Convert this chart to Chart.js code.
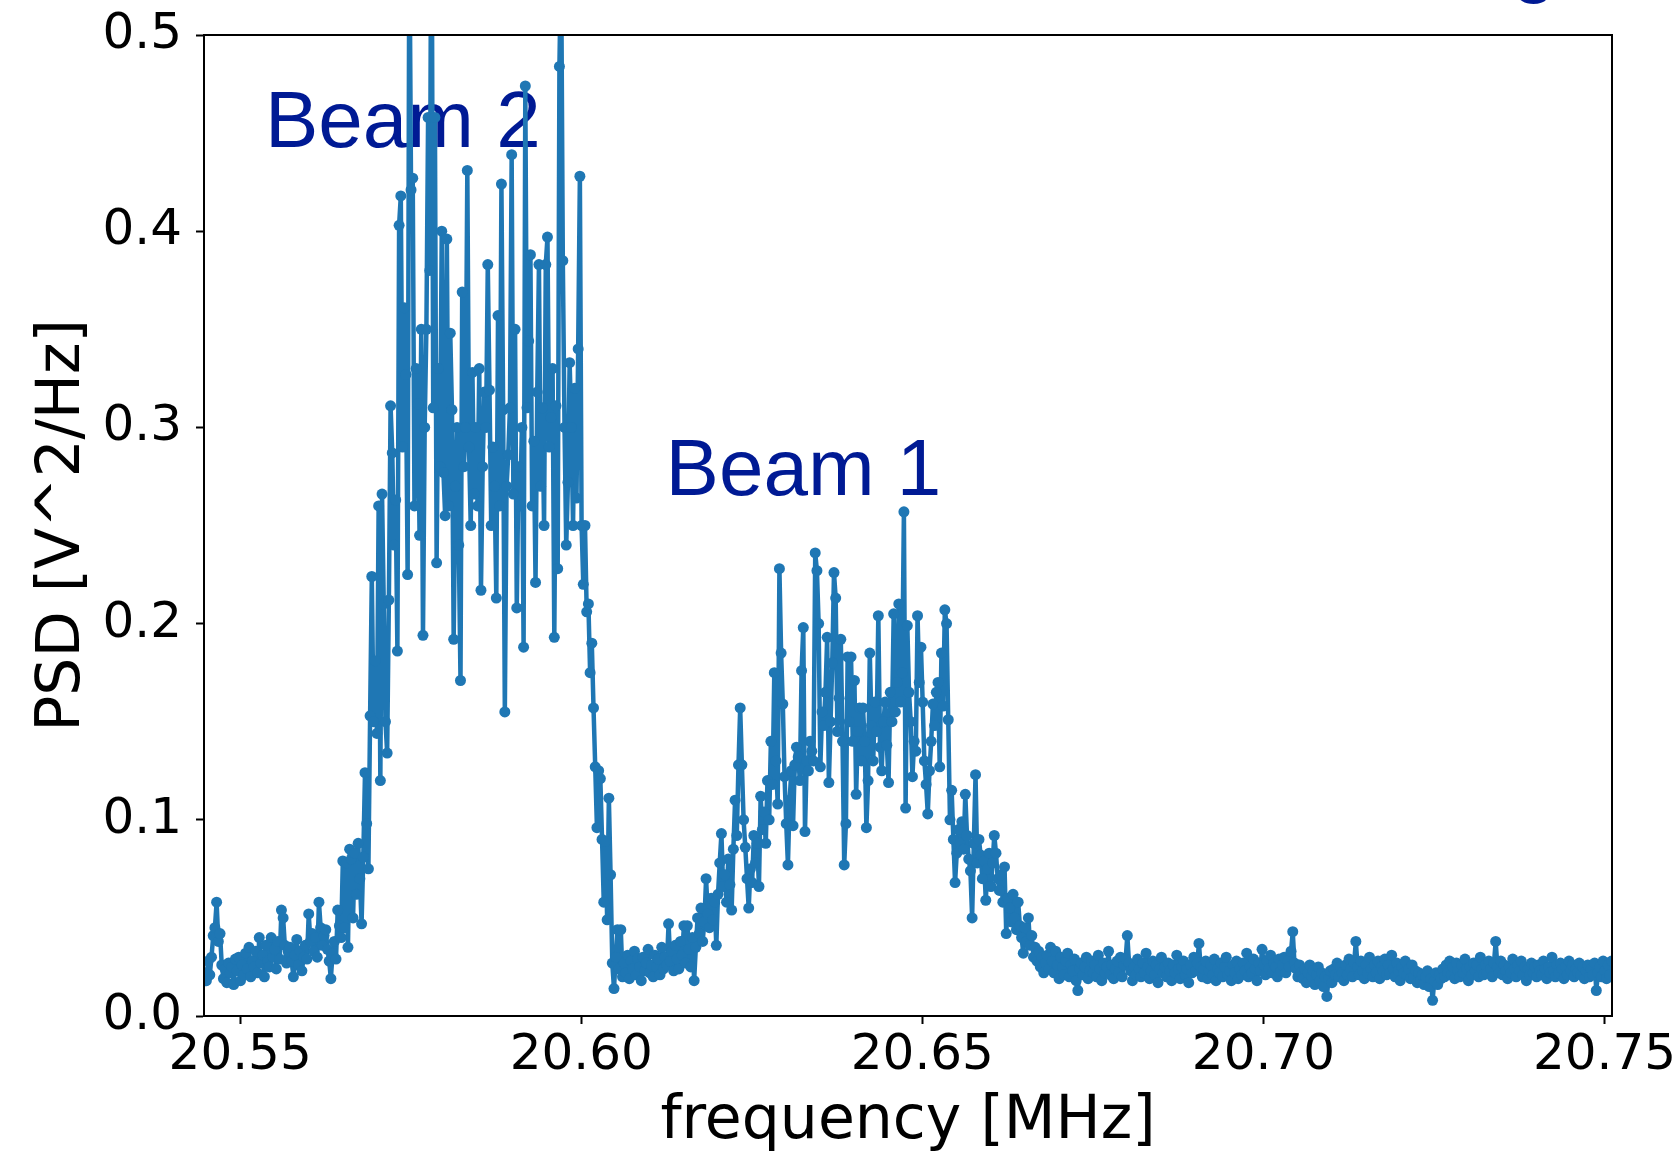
<!DOCTYPE html>
<html>
<head>
<meta charset="utf-8">
<title>PSD spectrum</title>
<script src="https://cdn.jsdelivr.net/npm/chart.js@4.4.1/dist/chart.umd.min.js"></script>
<style>
  html, body { margin: 0; padding: 0; background: #fff; }
  canvas { display: block; }
</style>
</head>
<body>
<canvas id="psdChart" width="1680" height="1152"></canvas>
<script>
  // frequency grid of the trace (MHz)
  const freqStart = 20.5448;
  const freqStep = 0.00025;
  const xMin = 20.5447;
  const xMax = 20.7511;
  const xTicks = [20.55, 20.60, 20.65, 20.70, 20.75];
  const yTicks = [0, 0.1, 0.2, 0.3, 0.4, 0.5];

  // PSD values, V^2/Hz
  const noiseLeft = [
    0.022, 0.018, 0.028, 0.021, 0.030, 0.041, 0.045, 0.058, 0.038, 0.042,
    0.026, 0.019, 0.024, 0.017, 0.027, 0.022, 0.025, 0.016, 0.029, 0.023,
    0.030, 0.018, 0.026, 0.021, 0.032, 0.024, 0.035, 0.020, 0.028, 0.025,
    0.033, 0.022, 0.040, 0.027, 0.031, 0.020, 0.036, 0.028, 0.025, 0.040,
    0.030, 0.034, 0.024, 0.038, 0.029, 0.054, 0.050, 0.036, 0.027, 0.033,
    0.035, 0.028, 0.020, 0.031, 0.039, 0.026, 0.033, 0.023, 0.030, 0.036,
    0.029, 0.052, 0.038, 0.042, 0.033, 0.040, 0.030, 0.058, 0.045, 0.036,
    0.041, 0.044, 0.034, 0.028, 0.019, 0.032, 0.038, 0.029, 0.054, 0.046,
    0.040
  ];
  const riseBeam2 = [
    0.079, 0.045, 0.078, 0.035, 0.085, 0.080, 0.050, 0.083, 0.062, 0.088,
    0.070, 0.047, 0.081, 0.124, 0.098, 0.075, 0.153
  ];
  const beam2 = [
    0.224, 0.150, 0.181, 0.144, 0.260, 0.120, 0.266, 0.210, 0.150, 0.134,
    0.212, 0.311, 0.287, 0.240, 0.263, 0.186, 0.403, 0.418, 0.290, 0.361,
    0.327, 0.225, 0.560, 0.421, 0.427, 0.260, 0.330, 0.312, 0.245, 0.350,
    0.194, 0.300, 0.350, 0.458, 0.380, 0.600, 0.310, 0.458, 0.231, 0.330,
    0.280, 0.400, 0.277, 0.255, 0.396, 0.260, 0.348, 0.309, 0.192, 0.270,
    0.300, 0.240, 0.171, 0.369, 0.280, 0.300, 0.431, 0.290, 0.250, 0.328,
    0.266, 0.300, 0.260, 0.330, 0.217, 0.280, 0.318, 0.300, 0.383, 0.319,
    0.250, 0.290, 0.270, 0.213, 0.357, 0.260, 0.424, 0.309, 0.155, 0.270,
    0.286, 0.310, 0.439, 0.266, 0.350, 0.208, 0.280, 0.260, 0.300, 0.188,
    0.474, 0.310, 0.344, 0.388, 0.260, 0.293, 0.221, 0.318, 0.383, 0.270,
    0.310, 0.250, 0.383, 0.397, 0.290, 0.305, 0.330, 0.193, 0.311, 0.228,
    0.484, 0.540, 0.385, 0.300, 0.240, 0.272, 0.333, 0.300, 0.250, 0.320,
    0.264, 0.340, 0.428
  ];
  const fallBeam2 = [
    0.250, 0.220, 0.250, 0.206, 0.210, 0.175, 0.190, 0.157, 0.127, 0.096,
    0.125, 0.121, 0.090, 0.058, 0.089, 0.049, 0.111, 0.072, 0.027, 0.014,
    0.030, 0.044, 0.024, 0.044, 0.020
  ];
  const gap = [
    0.027, 0.022, 0.031, 0.019, 0.028, 0.024, 0.033, 0.021, 0.029, 0.025,
    0.018, 0.030, 0.023, 0.027, 0.034, 0.022, 0.026, 0.020, 0.031, 0.025,
    0.029, 0.021, 0.035, 0.024, 0.030, 0.026, 0.047, 0.028, 0.033, 0.023,
    0.036, 0.029, 0.024, 0.038, 0.031, 0.046, 0.027, 0.046, 0.034, 0.025,
    0.040, 0.018, 0.035, 0.050
  ];
  const beam1 = [
    0.042, 0.055, 0.038, 0.048, 0.070, 0.052, 0.045, 0.060, 0.049, 0.058,
    0.036, 0.062, 0.078, 0.093, 0.066, 0.072, 0.058, 0.080, 0.067, 0.054,
    0.085, 0.110, 0.092, 0.128, 0.157, 0.128, 0.100, 0.086, 0.070, 0.055,
    0.075, 0.068, 0.092, 0.078, 0.088, 0.066, 0.112, 0.095, 0.104, 0.088,
    0.120, 0.100, 0.140, 0.118, 0.175, 0.130, 0.108, 0.228, 0.185, 0.159,
    0.122, 0.098, 0.077, 0.110, 0.125, 0.097, 0.128, 0.137, 0.132, 0.120,
    0.176, 0.198, 0.094, 0.130, 0.125, 0.140, 0.135, 0.130, 0.236, 0.227,
    0.200, 0.127, 0.155, 0.148, 0.165, 0.193, 0.119, 0.150, 0.180, 0.226,
    0.213, 0.145, 0.162, 0.192, 0.140, 0.077, 0.098, 0.183, 0.150, 0.183,
    0.140, 0.171, 0.113, 0.145, 0.157, 0.130, 0.157, 0.140, 0.096, 0.120,
    0.185, 0.148, 0.130, 0.160, 0.145, 0.204, 0.137, 0.125, 0.150, 0.160,
    0.138, 0.119, 0.165, 0.150, 0.205, 0.155, 0.170, 0.210, 0.160, 0.175,
    0.257, 0.106, 0.199, 0.165, 0.150, 0.122, 0.140, 0.135, 0.204, 0.170,
    0.188, 0.160, 0.130, 0.118, 0.103, 0.125, 0.140, 0.159, 0.148, 0.165,
    0.170, 0.127, 0.185, 0.158, 0.207, 0.200, 0.151, 0.100, 0.115, 0.090,
    0.068, 0.083, 0.095, 0.088, 0.099, 0.085, 0.113, 0.092, 0.080, 0.074,
    0.050, 0.088, 0.123, 0.078, 0.090, 0.082, 0.070, 0.079, 0.059, 0.075,
    0.083, 0.066, 0.078, 0.092, 0.083, 0.070, 0.064, 0.072, 0.058, 0.076,
    0.042, 0.060, 0.055, 0.048, 0.062, 0.050, 0.044, 0.058, 0.046, 0.040,
    0.032, 0.045, 0.038, 0.050, 0.036, 0.041, 0.030, 0.035, 0.028, 0.033,
    0.025, 0.030, 0.022, 0.027
  ];
  const noiseRight = [
    0.031, 0.024, 0.035, 0.028, 0.022, 0.033, 0.026, 0.019, 0.030, 0.025,
    0.021, 0.028, 0.032, 0.020, 0.026, 0.023, 0.029, 0.018, 0.013, 0.024,
    0.027, 0.021, 0.025, 0.030, 0.019, 0.023, 0.028, 0.022, 0.026, 0.020,
    0.031, 0.024, 0.018, 0.027, 0.022, 0.025, 0.033, 0.021, 0.026, 0.019,
    0.024, 0.028, 0.022, 0.030, 0.020, 0.026, 0.029, 0.041, 0.027, 0.023,
    0.018, 0.025, 0.021, 0.029, 0.024, 0.020, 0.027, 0.022, 0.032, 0.025,
    0.019, 0.023, 0.028, 0.021, 0.026, 0.017, 0.024, 0.030, 0.022, 0.025,
    0.020, 0.027, 0.023, 0.018, 0.026, 0.022, 0.031, 0.024, 0.019, 0.025,
    0.028, 0.021, 0.024, 0.017, 0.026, 0.022, 0.030, 0.023, 0.027, 0.037,
    0.025, 0.020, 0.024, 0.028, 0.019, 0.023, 0.026, 0.021, 0.029, 0.018,
    0.024, 0.022, 0.027, 0.020, 0.025, 0.030, 0.021, 0.023, 0.018, 0.026,
    0.022, 0.028, 0.019, 0.024, 0.021, 0.027, 0.023, 0.032, 0.020, 0.025,
    0.022, 0.029, 0.024, 0.018, 0.027, 0.023, 0.034, 0.026, 0.021, 0.028,
    0.024, 0.031, 0.022, 0.027, 0.025, 0.020, 0.029, 0.023, 0.026, 0.030,
    0.022, 0.028, 0.025, 0.033, 0.043, 0.027, 0.024, 0.020, 0.026, 0.022,
    0.019, 0.024, 0.017, 0.022, 0.026, 0.020, 0.023, 0.016, 0.021, 0.025,
    0.018, 0.022, 0.015, 0.020, 0.010, 0.019, 0.023, 0.017, 0.024, 0.021,
    0.027, 0.020, 0.025, 0.022, 0.018, 0.026, 0.021, 0.029, 0.024, 0.020,
    0.027, 0.038, 0.025, 0.021, 0.028, 0.023, 0.019, 0.026, 0.022, 0.030,
    0.024, 0.020, 0.026, 0.022, 0.028, 0.019, 0.025, 0.023, 0.029, 0.021,
    0.026, 0.022, 0.031, 0.024, 0.020, 0.027, 0.023, 0.018, 0.025, 0.022,
    0.028, 0.021, 0.024, 0.019, 0.026, 0.020, 0.023, 0.017, 0.022, 0.018,
    0.021, 0.016, 0.020, 0.023, 0.015, 0.019, 0.008, 0.018, 0.022, 0.016,
    0.021, 0.019, 0.024, 0.020, 0.026, 0.022, 0.028, 0.021, 0.025, 0.019,
    0.027, 0.023, 0.020, 0.026, 0.022, 0.029, 0.024, 0.018, 0.025, 0.021,
    0.027, 0.023, 0.026, 0.020, 0.030, 0.024, 0.021, 0.026, 0.022, 0.028,
    0.024, 0.020, 0.027, 0.038, 0.025, 0.022, 0.028, 0.021, 0.026, 0.023,
    0.019, 0.025, 0.022, 0.029, 0.024, 0.020, 0.026, 0.023, 0.028, 0.021,
    0.025, 0.018, 0.024, 0.021, 0.027, 0.022, 0.025, 0.020, 0.026, 0.023,
    0.021, 0.028, 0.024, 0.019, 0.025, 0.022, 0.030, 0.023, 0.020, 0.026,
    0.022, 0.027, 0.024, 0.019, 0.025, 0.021, 0.028, 0.023, 0.026, 0.020,
    0.024, 0.022, 0.027, 0.021, 0.025, 0.019, 0.023, 0.026, 0.020, 0.024,
    0.021, 0.027, 0.013, 0.022, 0.025, 0.020, 0.028, 0.023, 0.019, 0.026,
    0.021, 0.028
  ];

  // text labels placed in data coordinates (left of text, baseline)
  const labels = [
    { text: 'Beam 2', x: 20.55364, y: 0.4431 },
    { text: 'Beam 1', x: 20.61237, y: 0.2656 }
  ];

  const psd = [].concat(noiseLeft, riseBeam2, beam2, fallBeam2, gap, beam1, noiseRight);
  const points = psd.map((v, i) => ({ x: freqStart + i * freqStep, y: v }));

  const lineColor = '#1f77b4';
  const textColor = '#001a94';

  const labelPlugin = {
    id: 'beamLabels',
    beforeDatasetsDraw(chart) {
      const { ctx, scales } = chart;
      ctx.save();
      ctx.fillStyle = textColor;
      ctx.font = '80px "Liberation Sans", Arial, sans-serif';
      ctx.textAlign = 'left';
      ctx.textBaseline = 'alphabetic';
      labels.forEach(l => {
        ctx.fillText(l.text, scales.x.getPixelForValue(l.x), scales.y.getPixelForValue(l.y));
      });
      // bottom of a cut-off heading letter at the top edge
      ctx.fillText('g', 1512, -13);
      ctx.restore();
    }
  };

  const framePlugin = {
    id: 'frame',
    afterDraw(chart) {
      const { ctx, chartArea } = chart;
      ctx.save();
      ctx.strokeStyle = '#000';
      ctx.lineWidth = 2;
      ctx.strokeRect(chartArea.left, chartArea.top, chartArea.right - chartArea.left, chartArea.bottom - chartArea.top);
      ctx.restore();
    }
  };

  const xTickFont = { family: '"DejaVu Sans"', size: 50, lineHeight: 1.2 };
  const yTickFont = { family: '"DejaVu Sans"', size: 50, lineHeight: 0.8 };
  const titleFont = { family: '"DejaVu Sans"', size: 60, lineHeight: 1 };

  const ctx = document.getElementById('psdChart').getContext('2d');
  const psdChart = new Chart(ctx, {
    type: 'line',
    data: {
      datasets: [{
        data: points,
        borderColor: lineColor,
        backgroundColor: lineColor,
        borderWidth: 4.5,
        borderJoinStyle: 'round',
        borderCapStyle: 'round',
        pointRadius: 5.5,
        pointBorderWidth: 0,
        pointBackgroundColor: lineColor,
        tension: 0,
        clip: 0
      }]
    },
    options: {
      responsive: false,
      animation: false,
      devicePixelRatio: 1,
      layout: { padding: { left: 33, right: 68, top: 35, bottom: 0 } },
      plugins: { legend: { display: false }, tooltip: { enabled: false } },
      scales: {
        x: {
          type: 'linear',
          min: xMin,
          max: xMax,
          afterBuildTicks: scale => { scale.ticks = xTicks.map(v => ({ value: v })); },
          afterFit: scale => { scale.height = 136; },
          ticks: {
            font: xTickFont,
            color: '#000',
            padding: 2,
            maxRotation: 0,
            autoSkip: false,
            callback: v => v.toFixed(2)
          },
          grid: { drawOnChartArea: false, drawTicks: true, tickLength: 8, tickColor: '#000', tickWidth: 2 },
          border: { display: true, color: '#000', width: 2 },
          title: { display: true, text: 'frequency [MHz]', font: titleFont, color: '#000', padding: 0 }
        },
        y: {
          min: 0,
          max: 0.5,
          afterBuildTicks: scale => { scale.ticks = yTicks.map(v => ({ value: v })); },
          afterFit: scale => { scale.width = 171; },
          ticks: {
            font: yTickFont,
            color: '#000',
            padding: 14,
            autoSkip: false,
            callback: v => v.toFixed(1)
          },
          grid: { drawOnChartArea: false, drawTicks: true, tickLength: 8, tickColor: '#000', tickWidth: 2 },
          border: { display: true, color: '#000', width: 2 },
          title: { display: true, text: 'PSD [V^2/Hz]', font: titleFont, color: '#000', padding: 0 }
        }
      }
    },
    plugins: [labelPlugin, framePlugin]
  });
</script>
</body>
</html>
